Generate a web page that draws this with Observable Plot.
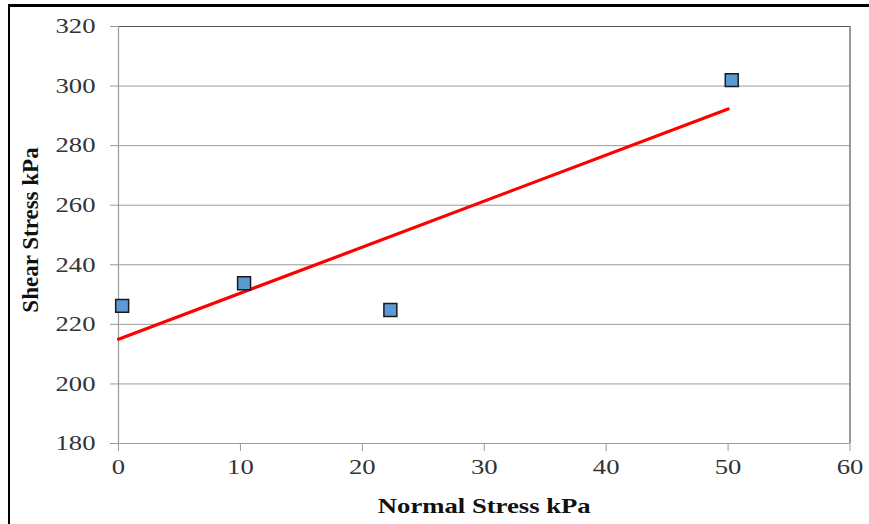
<!DOCTYPE html>
<html>
<head>
<meta charset="utf-8">
<script src="https://cdn.jsdelivr.net/npm/d3@7"></script>
<script src="https://cdn.jsdelivr.net/npm/@observablehq/plot@0.6"></script>
<style>
  html, body { margin: 0; padding: 0; background: #fff; }
  #wrap { position: relative; width: 869px; height: 524px; overflow: hidden; }
  #frame { position: absolute; left: 8px; top: 4px; width: 900px; height: 600px;
           border-left: 2.5px solid #000; border-top: 3px solid #000; pointer-events: none; }
  #chart { position: absolute; left: 0; top: 0; }
</style>
</head>
<body>
<div id="wrap"><div id="chart"></div><div id="frame"></div></div>
<script>
// Data
const normalStress = [0.3, 10.3, 22.3, 50.3];
const shearStress = [226.2, 233.8, 224.8, 302.0];
// Trend line endpoints (linear fit)
const trendX = [0, 50];
const trendY = [215.0, 292.3];
const xTicks = [0, 10, 20, 30, 40, 50, 60];
const yTicks = [180, 200, 220, 240, 260, 280, 300, 320];

const points = normalStress.map((x, i) => ({x, y: shearStress[i]}));
const trend = trendX.map((x, i) => ({x, y: trendY[i]}));

const plot = Plot.plot({
  width: 869,
  height: 524,
  marginLeft: 118,
  marginRight: 19.5,
  marginTop: 26,
  marginBottom: 81,
  style: { fontFamily: "'Liberation Serif', serif", fontSize: "21px", background: "transparent", color: "#333" },
  x: { domain: [0, 60] },
  y: { domain: [180, 320] },
  marks: [
    Plot.ruleY(yTicks.filter(d => d > 180 && d < 320), { stroke: "#9a9a9a", strokeWidth: 1 }),
    Plot.ruleY([320], { stroke: "#555", strokeWidth: 1.2 }),
    Plot.ruleX([60], { stroke: "#555", strokeWidth: 1.2 }),
    Plot.ruleX([0], { stroke: "#9a9a9a", strokeWidth: 1.2 }),
    Plot.ruleY([180], { stroke: "#9a9a9a", strokeWidth: 1.2 }),
    Plot.axisY({ ticks: yTicks, tickSize: 8, tickPadding: 15, stroke: "#9a9a9a", label: null, fill: "#333", fontSize: 21 }),
    Plot.axisX({ ticks: xTicks, tickSize: 8, tickPadding: 8, stroke: "#9a9a9a", label: null, fill: "#333", fontSize: 21 }),
    Plot.text(["Shear Stress kPa"], { frameAnchor: "left", textAnchor: "middle", dx: -88, dy: -5, rotate: -90, fontWeight: "bold", fontSize: 23, fill: "#111" }),
    Plot.text(["Normal Stress kPa"], { frameAnchor: "bottom", dy: 69, fontWeight: "bold", fontSize: 21, fill: "#111" }),
    Plot.line(trend, { x: "x", y: "y", stroke: "#ff0000", strokeWidth: 3.2 }),
    Plot.dot(points, { x: "x", y: "y", symbol: "square", r: 7.3, fill: "#5b9bd5", stroke: "#1a1a1a", strokeWidth: 1.5 })
  ]
});
document.getElementById("chart").appendChild(plot);

// The reference is horizontally stretched: widen horizontal texts
const stretch = (sel) => {
  plot.querySelectorAll(sel).forEach(t => {
    const len = t.getComputedTextLength();
    t.setAttribute("textLength", (len * 1.27).toFixed(1));
    t.setAttribute("lengthAdjust", "spacingAndGlyphs");
  });
};
stretch('g[aria-label="x-axis tick label"] text');
stretch('g[aria-label="y-axis tick label"] text');
stretch('g[aria-label="text"] text:not([transform*="rotate"])');
</script>
</body>
</html>
